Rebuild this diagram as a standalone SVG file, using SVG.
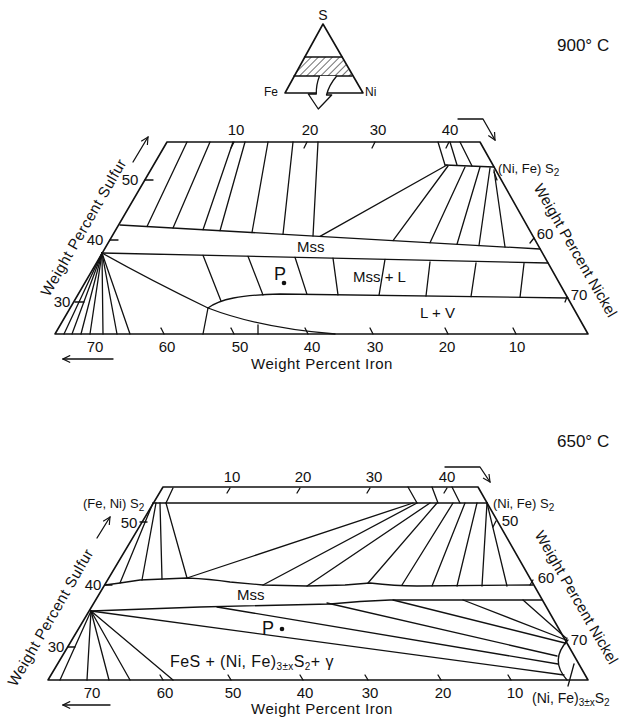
<svg xmlns="http://www.w3.org/2000/svg" width="622" height="717" viewBox="0 0 622 717">
<style>
text{font-family:"Liberation Sans",Arial,sans-serif;fill:#111}
.ln{fill:none;stroke:#111;stroke-width:1.3;stroke-linecap:round;stroke-linejoin:round}
.ed{fill:none;stroke:#111;stroke-width:1.6;stroke-linejoin:round}
.n{font-size:15px;text-anchor:middle}
.ax{font-size:15px;text-anchor:middle;letter-spacing:0.5px}
.axr{font-size:15px;text-anchor:middle;letter-spacing:0.2px}
.lb{font-size:15px}
.t{font-size:17px}
.sub{font-size:10px}
</style>
<defs>
<marker id="ah" viewBox="0 0 10 10" refX="9" refY="5" markerWidth="9" markerHeight="9" orient="auto" markerUnits="userSpaceOnUse">
<path d="M1,1 L9,5 L1,9" fill="none" stroke="#111" stroke-width="1.3"/>
</marker>
<pattern id="hatch" width="5" height="5" patternUnits="userSpaceOnUse" patternTransform="rotate(45)">
<line x1="0" y1="0" x2="0" y2="5" stroke="#111" stroke-width="1.2"/>
</pattern>
</defs>
<rect width="622" height="717" fill="#fff"/>

<!-- inset triangle -->
<g id="inset">
<polygon points="304.5,57 342,57 352,76 294,76" fill="url(#hatch)" stroke="none"/>
<polygon class="ed" points="323,24 285,93 363,93"/>
<line class="ln" x1="304.5" y1="57" x2="342" y2="57"/>
<line class="ln" x1="294" y1="76" x2="352" y2="76"/>
<path d="M319.5,76 Q316,85 316.3,94 L308.3,94 L318.3,109 L331.7,95 L326.5,95 Q329,85 336.7,76" fill="#fff" stroke="#111" stroke-width="1.3" stroke-linejoin="round"/>
<text x="323" y="20" style="font-size:14px" text-anchor="middle">S</text>
<text x="264" y="96" style="font-size:12px">Fe</text>
<text x="365" y="96" style="font-size:12px">Ni</text>
</g>

<!-- ================= 900 C ================= -->
<g id="d900">
<text class="t" x="557" y="51">900° C</text>
<g id="frame900">
<polygon class="ed" points="55,334 167,142 480,142 588,334"/>
</g>
<g id="connectors900">
<line class="ln" x1="445" y1="165" x2="494" y2="167"/>
<line class="ln" x1="438" y1="142" x2="445" y2="165"/>
<line class="ln" x1="450" y1="142" x2="457" y2="165"/>
<line class="ln" x1="460" y1="142" x2="472" y2="166"/>
<line class="ln" x1="120" y1="225" x2="540" y2="249"/>
<line class="ln" x1="102" y1="253" x2="548" y2="263"/>
<line class="ln" x1="187" y1="142" x2="147" y2="226.5"/>
<line class="ln" x1="210" y1="142" x2="173" y2="228"/>
<line class="ln" x1="233" y1="142" x2="203" y2="229.7"/>
<line class="ln" x1="245" y1="142" x2="220" y2="230.7"/>
<line class="ln" x1="268" y1="142" x2="252" y2="232.5"/>
<line class="ln" x1="293" y1="142" x2="283" y2="234.3"/>
<line class="ln" x1="318" y1="142" x2="313" y2="236"/>
<line class="ln" x1="447" y1="165" x2="320" y2="236.4"/>
<line class="ln" x1="448" y1="166" x2="393" y2="240.6"/>
<line class="ln" x1="465" y1="167" x2="430" y2="242.7"/>
<line class="ln" x1="480" y1="167" x2="457" y2="244.2"/>
<line class="ln" x1="490" y1="168" x2="479" y2="245.5"/>
<line class="ln" x1="494" y1="170" x2="505" y2="247"/>
<line class="ln" x1="494" y1="172" x2="497" y2="180"/>
<path class="ln" d="M208,308 C220,299 240,295 280,294 L568,298"/>
<path class="ln" d="M102,253 Q150,280 208,308 Q260,328 335,334"/>
<line class="ln" x1="208" y1="308" x2="203" y2="334"/>
<line class="ln" x1="258" y1="325" x2="258" y2="334"/>
<line class="ln" x1="203" y1="255.3" x2="221" y2="301"/>
<line class="ln" x1="248" y1="256.3" x2="263" y2="295"/>
<line class="ln" x1="295" y1="257.3" x2="307" y2="294.4"/>
<line class="ln" x1="333" y1="258.2" x2="338" y2="294.8"/>
<line class="ln" x1="385" y1="259.3" x2="379" y2="295.4"/>
<line class="ln" x1="430" y1="262" x2="426" y2="296"/>
<line class="ln" x1="476" y1="263" x2="471" y2="296.6"/>
<line class="ln" x1="524" y1="263.5" x2="520" y2="297.3"/>
<line class="ln" x1="102" y1="253" x2="64" y2="334"/>
<line class="ln" x1="102" y1="253" x2="72" y2="334"/>
<line class="ln" x1="102" y1="253" x2="81" y2="334"/>
<line class="ln" x1="102" y1="253" x2="90" y2="334"/>
<line class="ln" x1="102" y1="253" x2="103" y2="334"/>
<line class="ln" x1="102" y1="253" x2="117" y2="334"/>
<line class="ln" x1="102" y1="253" x2="130" y2="334"/>
<line class="ln" x1="234" y1="142" x2="231" y2="148"/>
<line class="ln" x1="307" y1="142" x2="304" y2="148"/>
<line class="ln" x1="375" y1="142" x2="372" y2="148"/>
<line class="ln" x1="449" y1="142" x2="446" y2="148"/>
<line class="ln" x1="145" y1="180" x2="153" y2="180"/>
<line class="ln" x1="110" y1="240" x2="118" y2="240"/>
<line class="ln" x1="75" y1="302" x2="84" y2="302"/>
<line class="ln" x1="534" y1="238" x2="530" y2="243"/>
<line class="ln" x1="567" y1="297" x2="565" y2="302"/>
<line class="ln" x1="161" y1="328" x2="164" y2="334"/>
<line class="ln" x1="231" y1="328" x2="234" y2="334"/>
<line class="ln" x1="305" y1="328" x2="308" y2="334"/>
<line class="ln" x1="370" y1="328" x2="373" y2="334"/>
<line class="ln" x1="445" y1="328" x2="448" y2="334"/>
<line class="ln" x1="513" y1="328" x2="516" y2="334"/>
<line class="ln" x1="113" y1="359" x2="63" y2="359" marker-end="url(#ah)"/>
<line class="ln" x1="133" y1="162" x2="148" y2="137" marker-end="url(#ah)"/>
<polyline class="ln" points="458,119 483,119 495,140" marker-end="url(#ah)"/>
</g>
<g id="labels900">
<text class="n" x="236" y="135">10</text>
<text class="n" x="310" y="135">20</text>
<text class="n" x="378" y="135">30</text>
<text class="n" x="450" y="135">40</text>
<text class="n" x="130" y="185">50</text>
<text class="n" x="95" y="245">40</text>
<text class="n" x="62" y="307">30</text>
<text class="n" x="545" y="239">60</text>
<text class="n" x="579" y="300">70</text>
<text class="n" x="95" y="352">70</text>
<text class="n" x="167" y="352">60</text>
<text class="n" x="240" y="352">50</text>
<text class="n" x="312" y="352">40</text>
<text class="n" x="375" y="352">30</text>
<text class="n" x="447" y="352">20</text>
<text class="n" x="517" y="352">10</text>
<text class="lb" x="498" y="173" style="font-size:13px">(Ni, Fe) S<tspan class="sub" dy="3">2</tspan></text>
<text class="lb" x="297" y="252">Mss</text>
<text class="lb" x="353" y="282">Mss + L</text>
<text class="lb" x="420" y="318">L + V</text>
<text x="274" y="280" style="font-size:18px">P</text>
<circle cx="284" cy="283" r="2.3" fill="#111"/>
<text class="ax" x="322" y="369">Weight Percent Iron</text>
<text class="ax" transform="translate(88,230) rotate(-60)">Weight Percent Sulfur</text>
<text class="axr" transform="translate(571,253) rotate(60)">Weight Percent Nickel</text>
</g>
</g>

<!-- ================= 650 C ================= -->
<g id="d650">
<text class="t" x="557" y="447">650° C</text>
<g id="frame650">
<polygon class="ed" points="48,680 163,487 478,487 588,680"/>
</g>
<g id="connectors650">
<line class="ln" x1="153" y1="503" x2="487" y2="503"/>
<line class="ln" x1="173" y1="488" x2="166" y2="503"/>
<line class="ln" x1="408" y1="487" x2="417" y2="503"/>
<line class="ln" x1="432" y1="487" x2="438" y2="503"/>
<line class="ln" x1="452" y1="487" x2="460" y2="503"/>
<path class="ln" d="M105,585 L120,583 L140,580 L187,578 Q210,579 230,582 L263,585 L307,586 L345,585 L370,583 Q395,586 417,586 L533,585"/>
<path class="ln" d="M91,611 L200,607 L330,604 Q360,601 390,600 L542,600"/>
<line class="ln" x1="153" y1="503" x2="120" y2="583"/>
<line class="ln" x1="156" y1="503" x2="142" y2="580"/>
<line class="ln" x1="160" y1="503" x2="162" y2="579"/>
<line class="ln" x1="166" y1="503" x2="187" y2="578"/>
<line class="ln" x1="413" y1="503" x2="187" y2="578"/>
<line class="ln" x1="417" y1="503" x2="263" y2="585"/>
<line class="ln" x1="430" y1="503" x2="307" y2="586"/>
<line class="ln" x1="437" y1="503" x2="368" y2="583"/>
<line class="ln" x1="453" y1="503" x2="402" y2="585"/>
<line class="ln" x1="465" y1="503" x2="432" y2="586"/>
<line class="ln" x1="477" y1="503" x2="457" y2="586"/>
<line class="ln" x1="487" y1="503" x2="482" y2="586"/>
<line class="ln" x1="487" y1="503" x2="507" y2="586"/>
<line class="ln" x1="91" y1="611" x2="60" y2="680"/>
<line class="ln" x1="91" y1="611" x2="87" y2="680"/>
<line class="ln" x1="91" y1="611" x2="109" y2="680"/>
<line class="ln" x1="91" y1="611" x2="130" y2="680"/>
<line class="ln" x1="91" y1="611" x2="173" y2="680"/>
<line class="ln" x1="91" y1="611" x2="564" y2="675"/>
<line class="ln" x1="217" y1="607" x2="558" y2="664"/>
<line class="ln" x1="327" y1="603" x2="557" y2="656"/>
<line class="ln" x1="393" y1="600" x2="565" y2="643"/>
<line class="ln" x1="463" y1="600" x2="566" y2="640"/>
<line class="ln" x1="523" y1="600" x2="566" y2="638"/>
<path class="ln" d="M568,640 Q549,660 567,680"/>
<line class="ln" x1="568" y1="686" x2="574" y2="664"/>
<line class="ln" x1="230" y1="488" x2="227" y2="493"/>
<line class="ln" x1="300" y1="488" x2="297" y2="493"/>
<line class="ln" x1="370" y1="488" x2="367" y2="493"/>
<line class="ln" x1="447" y1="488" x2="444" y2="493"/>
<line class="ln" x1="140" y1="522" x2="147" y2="522"/>
<line class="ln" x1="105" y1="585" x2="112" y2="585"/>
<line class="ln" x1="68" y1="647" x2="75" y2="647"/>
<line class="ln" x1="496" y1="521" x2="493" y2="527"/>
<line class="ln" x1="533" y1="580" x2="530" y2="585"/>
<line class="ln" x1="567" y1="638" x2="565" y2="644"/>
<line class="ln" x1="160" y1="675" x2="163" y2="680"/>
<line class="ln" x1="228" y1="675" x2="231" y2="680"/>
<line class="ln" x1="300" y1="675" x2="303" y2="680"/>
<line class="ln" x1="365" y1="675" x2="368" y2="680"/>
<line class="ln" x1="438" y1="675" x2="441" y2="680"/>
<line class="ln" x1="508" y1="675" x2="511" y2="680"/>
<line class="ln" x1="110" y1="705" x2="63" y2="705" marker-end="url(#ah)"/>
<line class="ln" x1="97" y1="538" x2="110" y2="517" marker-end="url(#ah)"/>
<polyline class="ln" points="445,467 480,467 490,482" marker-end="url(#ah)"/>
</g>
<g id="labels650">
<text class="n" x="232" y="482">10</text>
<text class="n" x="303" y="482">20</text>
<text class="n" x="374" y="482">30</text>
<text class="n" x="447" y="482">40</text>
<text class="n" x="129" y="528">50</text>
<text class="n" x="93" y="590">40</text>
<text class="n" x="56" y="652">30</text>
<text class="n" x="510" y="526">50</text>
<text class="n" x="546" y="583">60</text>
<text class="n" x="579" y="645">70</text>
<text class="n" x="92" y="698">70</text>
<text class="n" x="165" y="698">60</text>
<text class="n" x="233" y="698">50</text>
<text class="n" x="305" y="698">40</text>
<text class="n" x="370" y="698">30</text>
<text class="n" x="443" y="698">20</text>
<text class="n" x="515" y="698">10</text>
<text class="lb" x="83" y="508" style="font-size:13px">(Fe, Ni) S<tspan class="sub" dy="3">2</tspan></text>
<text class="lb" x="493" y="508" style="font-size:13px">(Ni, Fe) S<tspan class="sub" dy="3">2</tspan></text>
<text class="lb" x="532" y="703" style="font-size:14px">(Ni, Fe)<tspan class="sub" dy="3">3±x</tspan><tspan dy="-3">S</tspan><tspan class="sub" dy="3">2</tspan></text>
<text class="lb" x="237" y="600">Mss</text>
<text class="lb" x="170" y="667" style="font-size:16px;letter-spacing:0.4px">FeS + (Ni, Fe)<tspan class="sub" dy="3">3±x</tspan><tspan dy="-3">S</tspan><tspan class="sub" dy="3">2</tspan><tspan dy="-3">+ γ</tspan></text>
<text x="262" y="634" style="font-size:18px">P</text>
<circle cx="282" cy="629" r="2.3" fill="#111"/>
<text class="ax" x="322" y="714">Weight Percent Iron</text>
<text class="ax" transform="translate(55,620) rotate(-60)">Weight Percent Sulfur</text>
<text class="axr" transform="translate(572,600) rotate(60)">Weight Percent Nickel</text>
</g>
</g>
</svg>
